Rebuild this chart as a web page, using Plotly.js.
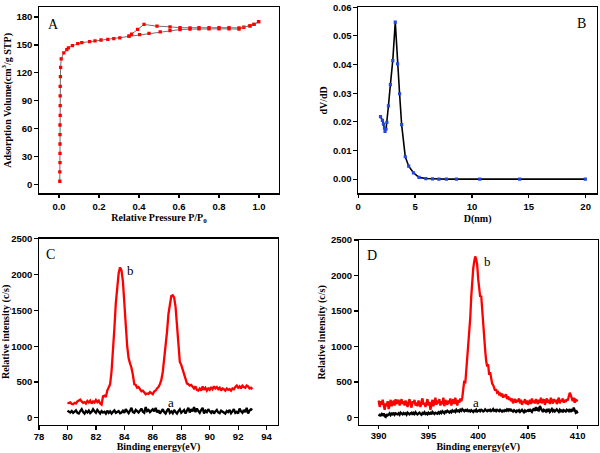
<!DOCTYPE html>
<html>
<head>
<meta charset="utf-8">
<script src="https://cdn.plot.ly/plotly-3.0.1.min.js"></script>
<style>html,body{margin:0;padding:0;background:#fff;}#chart{width:600px;height:453px;}</style>
</head>
<body>
<div id="chart"></div>
<script>
// ---- Panel A: N2 adsorption/desorption isotherm ----
const adsX = [0.004,0.004,0.005,0.005,0.005,0.005,0.005,0.006,0.006,0.006,0.006,0.007,0.008,0.011,0.024,0.039,0.047,0.067,0.094,0.114,0.153,0.18,0.21,0.244,0.274,0.304,0.35,0.403,0.45,0.506,0.555,0.605,0.655,0.7,0.75,0.8,0.85,0.9,0.924,0.955,0.975,0.998];
const adsY = [3.6,13.6,23.6,33.6,43.6,53.7,64,74.4,84.8,95.2,105.5,115.9,126,135,141.5,145,146.8,149.2,151.5,152.5,153.5,154.3,155.3,156,156.8,157.6,159.5,161,162.5,164,165.5,166.5,167,167.3,167.3,167.3,167.3,167,169,170.5,172,175];
const desX = [0.998,0.975,0.955,0.9,0.85,0.8,0.75,0.7,0.655,0.605,0.555,0.49,0.425,0.393,0.363,0.35];
const desY = [175,172,170.5,168.3,168.5,168.5,168.5,168.5,168.3,168.5,169.5,170.2,172,166.8,161.5,159.5];

// ---- Panel B: pore size distribution ----
const poreD = [1.96,2.13,2.22,2.31,2.36,2.45,2.52,2.66,2.83,3.04,3.26,3.46,3.64,3.82,4.14,4.44,4.86,5.35,5.95,6.53,7.1,7.76,8.64,10.69,14.2,19.97];
const dVdD = [0.0218,0.0205,0.0192,0.0178,0.0167,0.0175,0.0198,0.0256,0.033,0.0414,0.0548,0.0402,0.0298,0.019,0.0078,0.0045,0.0022,0.0006,0.0002,0.0001,0,0,0,0,0,0];

// ---- Panel C: XPS spectra, 80.0 .. 93.0 eV, step 0.1 ----
const cStart = 80.0, cStep = 0.1;
const cRed = [
210,205,215,195,190,210,200,230,240,255,
230,210,220,200,235,215,240,200,230,215,
250,220,240,200,185,300,310,290,380,420,
470,650,900,1250,1600,1850,2020,2100,2060,1900,
1650,1300,1000,830,760,700,600,470,460,420,
430,390,370,380,345,330,340,335,360,340,
330,370,380,410,430,470,530,640,800,1000,
1200,1450,1620,1700,1710,1680,1550,1300,1000,780,
740,680,600,530,480,470,450,460,430,410,
440,390,380,410,380,440,390,420,380,410,
390,430,400,440,410,430,400,420,380,410,
400,380,410,390,400,380,410,400,430,450,
420,440,410,450,430,420,450,440,410,420,
400];
const cBlack = [
100,90,75,95,70,85,105,70,60,95,
120,80,60,95,75,100,65,85,120,90,
70,110,80,60,95,75,85,60,100,70,
90,60,85,105,70,80,95,65,75,100,
70,120,85,65,100,140,80,70,110,90,
75,100,130,85,70,150,95,110,80,100,
120,90,140,75,105,60,95,120,80,60,
100,130,70,90,65,110,80,60,95,120,
70,85,110,60,100,140,75,120,90,150,
80,130,95,70,110,140,60,100,80,120,
90,70,100,60,90,110,75,65,100,85,
70,60,95,80,110,65,90,120,70,85,
60,130,90,70,110,80,140,60,100,120,
110];

// ---- Panel D: XPS spectra, 390.0 .. 410.0 eV, step 0.1 ----
const dStart = 390.0, dStep = 0.1;
const dRed = [
240,150,230,180,250,170,110,200,160,230,
120,180,250,160,210,240,170,260,190,230,
250,170,210,260,190,230,170,240,200,150,
220,260,180,140,230,200,250,170,210,160,
240,190,150,230,270,180,210,150,230,260,
170,220,110,190,250,160,210,280,180,240,
200,260,170,230,190,280,160,250,210,180,
240,200,270,170,230,260,190,280,220,170,
250,210,270,230,280,450,520,480,650,800,
950,1150,1400,1700,1950,2100,2200,2270,2230,2150,
1950,1780,1700,1720,1500,1250,1050,950,800,720,
750,600,640,520,480,460,420,380,400,350,
360,330,350,300,340,280,320,290,330,260,
300,250,280,230,270,200,240,260,210,250,
230,270,200,250,180,230,210,260,190,240,
180,220,250,190,270,210,240,200,260,230,
190,250,210,280,200,240,260,180,230,270,
210,250,190,280,230,200,260,220,250,190,
240,280,200,250,230,270,210,250,220,260,
240,300,350,320,260,230,280,210,250,240,
250];
const dBlack = [
20,40,30,50,25,60,20,10,50,30,
40,60,35,55,45,70,40,60,50,45,
60,40,70,55,45,65,50,60,40,70,
55,45,60,70,40,65,50,75,55,45,
60,70,50,40,65,55,75,50,60,45,
70,55,65,45,80,60,50,70,65,55,
75,60,80,65,90,70,60,85,75,95,
80,70,90,75,100,85,95,80,110,90,
100,85,110,95,120,100,90,105,95,110,
90,100,85,105,95,80,100,90,110,85,
95,105,90,110,100,85,95,115,100,90,
105,95,110,90,100,120,95,105,90,110,
100,90,110,95,85,100,90,105,95,115,
100,125,90,110,95,85,105,95,80,100,
90,105,80,95,110,90,75,100,85,95,
105,85,120,95,80,110,130,95,150,100,
120,90,165,130,100,80,110,95,85,120,
95,110,80,100,120,90,105,85,100,115,
95,80,110,90,100,75,105,95,85,110,
100,90,120,80,105,90,140,100,70,85,
60];

// ---- Texts ----
const titleA_x = 'Relative Pressure P/P<sub>0</sub>';
const titleA_y = 'Adsorption Volume(cm<sup>3</sup>/g STP)';
const titleB_x = 'D(nm)';
const titleB_y = 'dV/dD';
const titleXPS_x = 'Binding energy(eV)';
const titleXPS_y = 'Relative intensity (c/s)';
const panelLabels = ['A','B','C','D'];
const curveLabels = ['a','b'];

const SANS = 'Liberation Sans, Arial, sans-serif';
const SERIF = 'Liberation Serif, Times New Roman, serif';

const traces = [
  {x: adsX, y: adsY, xaxis:'x', yaxis:'y', mode:'lines+markers',
   line:{color:'#707070', width:1}, marker:{symbol:'square', size:3.3, color:'#ff0000'}},
  {x: desX, y: desY, xaxis:'x', yaxis:'y', mode:'lines+markers',
   line:{color:'#707070', width:1}, marker:{symbol:'square', size:3.3, color:'#ff0000'}},
  {x: poreD, y: dVdD, xaxis:'x2', yaxis:'y2', mode:'lines+markers',
   line:{color:'#000000', width:1.6}, marker:{symbol:'square', size:3.2, color:'#2346e6'}},
  {x0: cStart, dx: cStep, y: cRed, xaxis:'x3', yaxis:'y3', mode:'lines',
   line:{color:'#ff0000', width:2.3}},
  {x0: cStart, dx: cStep, y: cBlack, xaxis:'x3', yaxis:'y3', mode:'lines',
   line:{color:'#000000', width:2.3}},
  {x0: dStart, dx: dStep, y: dRed, xaxis:'x4', yaxis:'y4', mode:'lines',
   line:{color:'#ff0000', width:2.3}},
  {x0: dStart, dx: dStep, y: dBlack, xaxis:'x4', yaxis:'y4', mode:'lines',
   line:{color:'#000000', width:2.3}}
];

function ax(opts) {
  const base = {
    showline:true, mirror:true, linecolor:'#000', linewidth:1.3,
    ticks:'outside', ticklen:3.5, tickwidth:1.2, tickcolor:'#000',
    showgrid:false, zeroline:false, autorange:false,
    tickfont:{family:SANS, size:9.5, color:'#000', weight:'bold'},
    minor:{ticks:'outside', ticklen:2, tickwidth:1, tickcolor:'#000', showgrid:false}
  };
  const o = Object.assign(base, opts);
  o.minor = Object.assign(base.minor, opts.minor || {});
  return o;
}
function ttl(text, standoff) {
  return {text:text, standoff:standoff, font:{family:SERIF, size:10, color:'#000', weight:'bold'}};
}

const layout = {
  width:600, height:453, showlegend:false,
  paper_bgcolor:'#fff', plot_bgcolor:'#fff',
  margin:{l:0, r:0, t:0, b:0},
  xaxis: ax({domain:[0.065,0.465], anchor:'y', range:[-0.1,1.1], tick0:0, dtick:0.2, tickformat:'.1f', minor:{dtick:0.1}, title:ttl(titleA_x,1)}),
  yaxis: ax({domain:[0.573,0.984], anchor:'x', range:[-9.5,190.5], tick0:0, dtick:30, minor:{dtick:15}, title:ttl(titleA_y,3)}),
  xaxis2: ax({domain:[0.597,0.995], anchor:'y2', range:[0,21], tick0:0, dtick:5, minor:{dtick:2.5}, title:ttl(titleB_x,4)}),
  yaxis2: ax({domain:[0.573,0.984], anchor:'x2', range:[-0.005,0.06], tick0:0, dtick:0.01, tickformat:'.2f', minor:{dtick:0.005}, title:ttl(titleB_y,3)}),
  xaxis3: ax({domain:[0.065,0.4633], anchor:'y3', range:[78,94.8], tick0:78, dtick:2, minor:{dtick:1}, ticklabelstandoff:-1, title:ttl(titleXPS_x,4)}),
  yaxis3: ax({domain:[0.0618,0.473], anchor:'x3', range:[-100,2500], tick0:0, dtick:500, minor:{dtick:250}, title:ttl(titleXPS_y,3)}),
  xaxis4: ax({domain:[0.598,0.996], anchor:'y4', range:[388,412], tick0:390, dtick:5, minor:{dtick:2.5}, ticklabelstandoff:-2, title:ttl(titleXPS_x,4)}),
  yaxis4: ax({domain:[0.0625,0.470], anchor:'x4', range:[-100,2500], tick0:0, dtick:500, minor:{dtick:250}, title:ttl(titleXPS_y,3)}),
  annotations: [
    {text:panelLabels[0], x:0.0889, y:0.947, size:14},
    {text:panelLabels[1], x:0.9695, y:0.9486, size:14},
    {text:panelLabels[2], x:0.0845, y:0.4377, size:14},
    {text:panelLabels[3], x:0.6195, y:0.4349, size:14},
    {text:curveLabels[1], x:0.2183, y:0.4033, size:13},
    {text:curveLabels[0], x:0.2845, y:0.111, size:13},
    {text:curveLabels[1], x:0.8122, y:0.4238, size:13},
    {text:curveLabels[0], x:0.7933, y:0.111, size:13}
  ].map(a => ({text:a.text, x:a.x, y:a.y, xref:'paper', yref:'paper', xanchor:'center', yanchor:'middle',
               showarrow:false, font:{family:SERIF, size:a.size, color:'#000'}}))
};

Plotly.newPlot('chart', traces, layout, {staticPlot:true, displayModeBar:false});
</script>
</body>
</html>
